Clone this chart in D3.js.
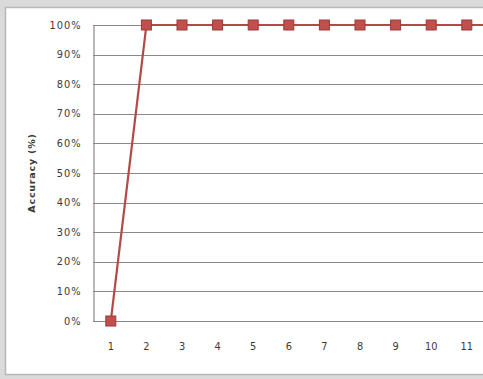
<!DOCTYPE html>
<html>
<head>
<meta charset="utf-8">
<script src="https://cdn.jsdelivr.net/npm/d3@7"></script>
<style>
  html, body { margin: 0; padding: 0; background: #dadada; }
  svg { display: block; }
  text { font-family: "DejaVu Sans", sans-serif; fill: #3a3a3a; }
</style>
</head>
<body>
<svg id="chart" width="483" height="379"></svg>
<script>
// Test runs and the accuracy reached on each
const runs = ["1", "2", "3", "4", "5", "6", "7", "8", "9", "10", "11", "12"];
const accuracy = [0, 100, 100, 100, 100, 100, 100, 100, 100, 100, 100, 100];
const runLabels = ["1", "2", "3", "4", "5", "6", "7", "8", "9", "10", "11"];
const yTicks = [0, 10, 20, 30, 40, 50, 60, 70, 80, 90, 100];
const yTitle = "Accuracy (%)";

const svg = d3.select("#chart");
const W = 483, H = 379;

// chart frame
svg.append("rect")
  .attr("x", 5.5).attr("y", 7.5)
  .attr("width", 520).attr("height", 367)
  .attr("fill", "#ffffff")
  .attr("stroke", "#b8b8b8").attr("stroke-width", 1.5);

const plot = { left: 93, top: 25, bottom: 321 };
const band = 35.6;

const x = d3.scaleBand()
  .domain(runs)
  .range([plot.left, plot.left + band * runs.length])
  .padding(0);

const y = d3.scaleLinear()
  .domain([0, 100])
  .range([plot.bottom, plot.top]);

// horizontal gridlines
svg.append("g")
  .selectAll("line")
  .data(yTicks)
  .join("line")
  .attr("x1", plot.left).attr("x2", W + 40)
  .attr("y1", d => Math.round(y(d)) + 0.5)
  .attr("y2", d => Math.round(y(d)) + 0.5)
  .attr("stroke", "#8a8a8a").attr("stroke-width", 1.2);

// value axis
const yAxis = d3.axisLeft(y)
  .tickValues(yTicks)
  .tickFormat(d => d + "%")
  .tickSize(0)
  .tickPadding(12);

const gy = svg.append("g")
  .attr("transform", `translate(${plot.left + 0.5},0)`)
  .call(yAxis);
gy.select(".domain").attr("stroke", "#8a8a8a").attr("stroke-width", 1.2);
gy.selectAll("text")
  .attr("font-size", 9.8)
  .attr("letter-spacing", 1)
  .style("font-family", "DejaVu Sans, sans-serif")
  .attr("fill", "#3a3a3a");

// category axis labels
const xAxis = d3.axisBottom(x).tickValues(runLabels).tickSize(0).tickPadding(22);
const gx = svg.append("g")
  .attr("transform", `translate(0,${plot.bottom})`)
  .call(xAxis);
gx.select(".domain").remove();
gx.selectAll("text")
  .attr("font-size", 9.8)
  .style("font-family", "DejaVu Sans, sans-serif")
  .attr("fill", "#3a3a3a");

// axis title
svg.append("text")
  .attr("transform", `translate(35,${(plot.top + plot.bottom) / 2}) rotate(-90)`)
  .attr("text-anchor", "middle")
  .attr("font-size", 9.5)
  .attr("font-weight", "bold")
  .attr("letter-spacing", 0.8)
  .attr("fill", "#222")
  .text(yTitle);

const pts = runs.map((r, i) => ({ run: r, value: accuracy[i] }));
const cx = d => x(d.run) + x.bandwidth() / 2;

// series line
svg.append("path")
  .datum(pts)
  .attr("fill", "none")
  .attr("stroke", "#b24a48")
  .attr("stroke-width", 2.2)
  .attr("d", d3.line().x(cx).y(d => y(d.value)));

// square markers
const m = 10;
svg.append("g")
  .selectAll("rect")
  .data(pts)
  .join("rect")
  .attr("x", d => cx(d) - m / 2)
  .attr("y", d => y(d.value) - m / 2)
  .attr("width", m).attr("height", m)
  .attr("fill", "#c0504d")
  .attr("stroke", "#9a3b39").attr("stroke-width", 1);
</script>
</body>
</html>
